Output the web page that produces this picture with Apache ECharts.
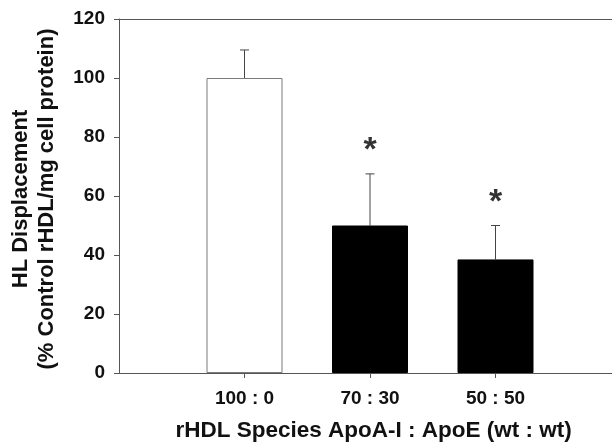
<!DOCTYPE html>
<html>
<head>
<meta charset="utf-8">
<script src="https://cdn.jsdelivr.net/npm/echarts@6/dist/echarts.min.js"></script>
<style>
html,body{margin:0;padding:0;background:#fff;}
#chart{width:612px;height:446px;}
</style>
</head>
<body>
<div id="chart"></div>
<script>
var categories = ['100 : 0', '70 : 30', '50 : 50'];
var means = [100, 50, 38.5];
var errors = [9.5, 17.5, 11.5];
var significance = ['', '*', '*'];
var barColors = ['#ffffff', '#000000', '#000000'];

var yTitle = 'HL Displacement\n(% Control rHDL/mg cell protein)';
var xTitle = 'rHDL Species ApoA-I : ApoE (wt : wt)';

// pad category axis with empty slots at both ends
var axisCats = [''].concat(categories).concat(['']);
var barData = [null];
var errData = [];
var starData = [];
for (var i = 0; i < categories.length; i++) {
  barData.push({
    value: means[i],
    itemStyle: {
      color: barColors[i],
      borderColor: barColors[i] === '#ffffff' ? '#7a7a7a' : '#000000',
      borderWidth: 1
    }
  });
  errData.push([i + 1, means[i], means[i] + errors[i]]);
  if (significance[i]) starData.push({value: [i + 1, means[i] + errors[i]], label: {formatter: significance[i]}});
}
barData.push(null);

var font = 'Liberation Sans, Arial, sans-serif';
var chart = echarts.init(document.getElementById('chart'), null, {renderer: 'canvas'});
chart.setOption({
  animation: false,
  backgroundColor: '#fff',
  grid: {left: 119, top: 19, bottom: 73, width: 502, containLabel: false, outerBoundsMode: 'none'},
  xAxis: [{
    type: 'category',
    data: axisCats,
    boundaryGap: false,
    position: 'bottom',
    axisLine: {lineStyle: {color: '#555', width: 1}},
    axisTick: {show: true, length: 5, inside: false, lineStyle: {color: '#555'},
      interval: function (idx, val) { return val !== ''; }},
    axisLabel: {color: '#111', fontFamily: font, fontWeight: 'bold', fontSize: 19, margin: 16, interval: 0},
    splitLine: {show: false},
    name: xTitle,
    nameLocation: 'middle',
    nameGap: 46,
    nameTextStyle: {color: '#111', fontFamily: font, fontWeight: 'bold', fontSize: 22.5, padding: [0, 0, 0, 7]}
  }, {
    type: 'category',
    data: axisCats,
    boundaryGap: false,
    position: 'top',
    axisLine: {show: true, lineStyle: {color: '#555', width: 1}},
    axisTick: {show: false},
    axisLabel: {show: false},
    splitLine: {show: false}
  }],
  yAxis: {
    type: 'value',
    min: 0, max: 120, interval: 20,
    axisLine: {show: true, lineStyle: {color: '#555', width: 1}},
    axisTick: {show: true, length: 5, lineStyle: {color: '#555'}},
    axisLabel: {color: '#111', fontFamily: font, fontWeight: 'bold', fontSize: 19, margin: 14},
    splitLine: {show: false},
    name: yTitle,
    nameLocation: 'middle',
    nameGap: 59,
    nameTextStyle: {color: '#111', fontFamily: font, fontWeight: 'bold', fontSize: 22, lineHeight: 26, align: 'center', padding: [0, 6, 0, 0]}
  },
  series: [{
    type: 'bar',
    data: barData,
    barWidth: 76,
    z: 2
  }, {
    type: 'custom',
    data: errData,
    z: 1,
    renderItem: function (params, api) {
      var x = api.value(0);
      var lo = api.coord([x, api.value(1)]);
      var hi = api.coord([x, api.value(2)]);
      var hw = 4.5;
      return {
        type: 'group',
        children: [{
          type: 'line',
          shape: {x1: lo[0], y1: lo[1], x2: hi[0], y2: hi[1]},
          style: {stroke: '#444', lineWidth: 1}
        }, {
          type: 'line',
          shape: {x1: hi[0] - hw, y1: hi[1], x2: hi[0] + hw, y2: hi[1]},
          style: {stroke: '#444', lineWidth: 1}
        }]
      };
    }
  }, {
    type: 'scatter',
    data: starData,
    symbolSize: 0,
    z: 3,
    label: {show: true, position: 'top', distance: 6, color: '#000', fontFamily: font, fontWeight: 'bold', fontSize: 34}
  }]
});
</script>
</body>
</html>
